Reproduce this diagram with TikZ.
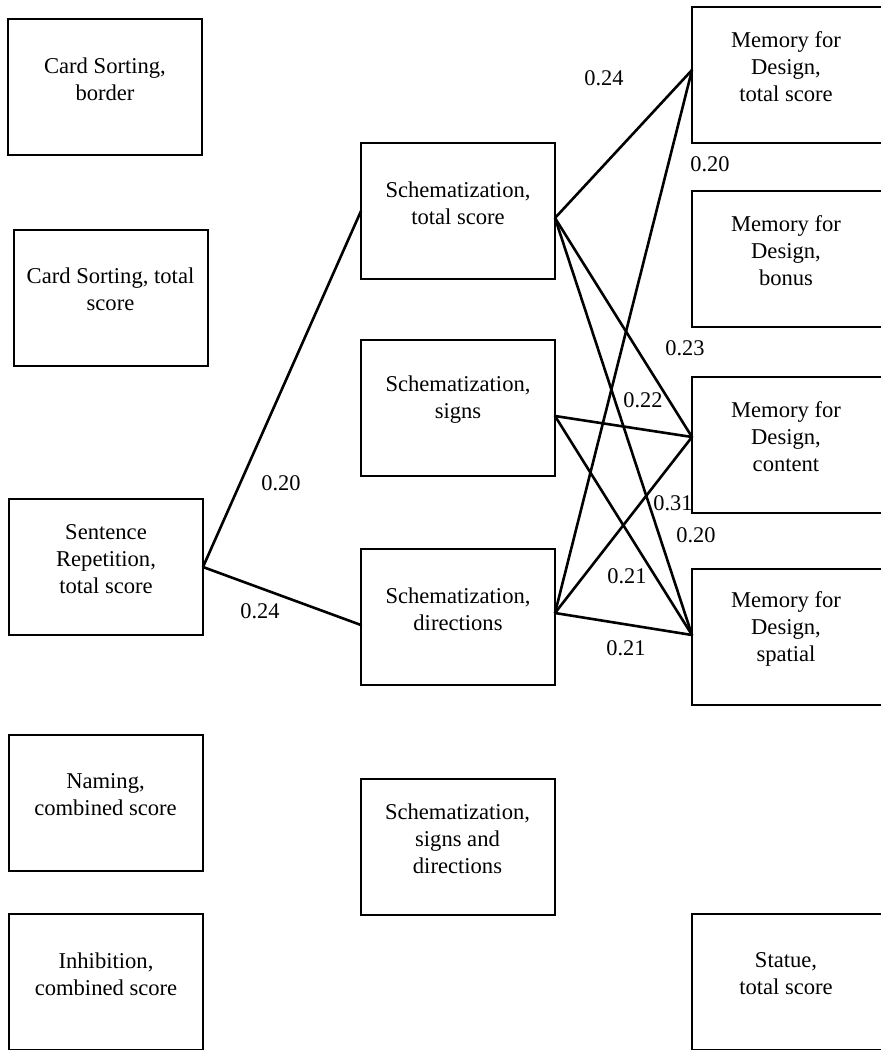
\documentclass[tikz,border=0pt]{standalone}
\usepackage{fontspec}
\setmainfont{Liberation Serif}
\begin{document}
\begin{tikzpicture}[x=1pt,y=-1pt,
  box/.style={draw=black,line width=2pt,rectangle,minimum width=194pt,minimum height=136pt,inner sep=0pt,outer sep=0pt},
  txt/.style={align=center,font=\fontsize{22.6}{27}\selectfont,inner sep=0pt},
  lab/.style={font=\fontsize{22.4}{27}\selectfont,inner sep=0pt},
  conn/.style={line width=2.6pt,draw=black,line cap=round}]
\useasboundingbox (0,0) rectangle (881,1050);
\clip (0,0) rectangle (881,1050);
% left column
\node[box] (cb) at (105,87) {};
\node[txt] at ([yshift=8pt]cb.center) {Card Sorting,\\border};
\node[box] (ct) at (110.5,297.5) {};
\node[txt] at ([yshift=8pt]ct.center) {Card Sorting, total\\score};
\node[box] (sr) at (106,567) {};
\node[txt] at ([yshift=8pt]sr.center) {Sentence\\Repetition,\\total score};
\node[box] (nm) at (105.5,802.5) {};
\node[txt] at ([yshift=8pt]nm.center) {Naming,\\combined score};
\node[box] (ih) at (106,982) {};
\node[txt] at ([yshift=8pt]ih.center) {Inhibition,\\combined score};
% middle column
\node[box] (st) at (458,211) {};
\node[txt] at ([yshift=8pt]st.center) {Schematization,\\total score};
\node[box] (ss) at (458,408) {};
\node[txt] at ([yshift=8pt]ss.center) {Schematization,\\signs};
\node[box] (sd) at (458,617) {};
\node[txt] at ([yshift=8pt]sd.center) {Schematization,\\directions};
\node[box] (ssd) at (457.5,847) {};
\node[txt] at ([yshift=8pt]ssd.center) {Schematization,\\signs and\\directions};
% right column
\node[box] (mt) at (789,75) {};
\node[txt] at ([yshift=8pt,xshift=-3pt]mt.center) {Memory for\\Design,\\total score};
\node[box] (mb) at (789,259) {};
\node[txt] at ([yshift=8pt,xshift=-3pt]mb.center) {Memory for\\Design,\\bonus};
\node[box] (mc) at (789,445) {};
\node[txt] at ([yshift=8pt,xshift=-3pt]mc.center) {Memory for\\Design,\\content};
\node[box] (ms) at (789,637) {};
\node[txt] at ([yshift=8pt,xshift=-3pt]ms.center) {Memory for\\Design,\\spatial};
\node[box] (stat) at (789,982) {};
\node[txt] at ([yshift=8pt,xshift=-3pt]stat.center) {Statue,\\total score};
% connectors
\draw[conn] (sr.east) -- (st.west);
\draw[conn] (sr.east) -- ([yshift=-8pt]sd.west);
\draw[conn] ([yshift=-7pt]st.east) -- ([yshift=5pt]mt.west);
\draw[conn] ([yshift=-7pt]st.east) -- ([yshift=8pt]mc.west);
\draw[conn] ([yshift=-7pt]st.east) -- ([yshift=2pt]ms.west);
\draw[conn] ([yshift=-8pt]ss.east) -- ([yshift=8pt]mc.west);
\draw[conn] ([yshift=-8pt]ss.east) -- ([yshift=2pt]ms.west);
\draw[conn] ([yshift=4pt]sd.east) -- ([yshift=5pt]mt.west);
\draw[conn] ([yshift=4pt]sd.east) -- ([yshift=8pt]mc.west);
\draw[conn] ([yshift=4pt]sd.east) -- ([yshift=2pt]ms.west);
% labels
\node[lab] (l1) at (281,483) {0.20};
\node[lab] (l2) at (260,611) {0.24};
\node[lab] (l3) at (604,78) {0.24};
\node[lab] (l4) at (710,164) {0.20};
\node[lab] (l5) at (685,348) {0.23};
\node[lab] (l6) at (643,400) {0.22};
\node[lab] (l7) at (673,503) {0.31};
\node[lab] (l8) at (696,535) {0.20};
\node[lab] (l9) at (627,576) {0.21};
\node[lab] (l10) at (626,648) {0.21};
\end{tikzpicture}
\end{document}
